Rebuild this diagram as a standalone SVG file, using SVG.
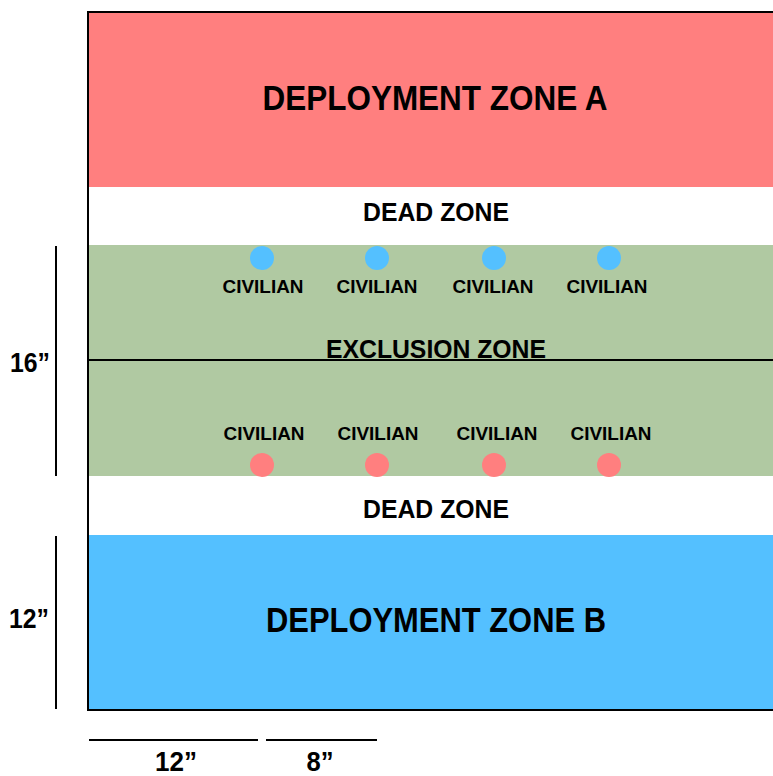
<svg xmlns="http://www.w3.org/2000/svg" width="773" height="776" viewBox="0 0 773 776">
<style>
.t{font-family:"Liberation Sans",Arial,sans-serif;font-weight:bold;fill:#000;text-anchor:middle}
.big{font-size:35px}
.mid{font-size:25px}
.sm{font-size:19px}
.dim{font-size:28px}
.ln{stroke:#000;stroke-width:2;fill:none}
.blue{fill:#54C0FF}
.red{fill:#FF7F7F}
</style>
<rect width="773" height="776" fill="#fff"/>
<g id="zoneA"><rect x="88" y="12" width="685" height="175" fill="#FF7F7F"/><text class="t big" x="435" y="110" textLength="345" lengthAdjust="spacingAndGlyphs">DEPLOYMENT ZONE A</text></g>
<g id="deadA"><text class="t mid" x="436" y="221" textLength="146" lengthAdjust="spacingAndGlyphs">DEAD ZONE</text></g>
<g id="exclusion"><rect x="88" y="245" width="685" height="231" fill="#B0C9A2"/><line class="ln" x1="88" y1="360" x2="773" y2="360"/><text class="t mid" x="436" y="358" textLength="220" lengthAdjust="spacingAndGlyphs">EXCLUSION ZONE</text></g>
<g id="deadB"><text class="t mid" x="436" y="518" textLength="146" lengthAdjust="spacingAndGlyphs">DEAD ZONE</text></g>
<g id="zoneB"><rect x="88" y="535" width="685" height="175" fill="#54C0FF"/><text class="t big" x="436" y="632" textLength="340" lengthAdjust="spacingAndGlyphs">DEPLOYMENT ZONE B</text></g>
<g id="civ1"><circle class="blue" cx="262" cy="258" r="12"/><text class="t sm" x="263" y="293" textLength="81" lengthAdjust="spacingAndGlyphs">CIVILIAN</text></g>
<g id="civ2"><circle class="blue" cx="377" cy="258" r="12"/><text class="t sm" x="377" y="293" textLength="81" lengthAdjust="spacingAndGlyphs">CIVILIAN</text></g>
<g id="civ3"><circle class="blue" cx="494" cy="258" r="12"/><text class="t sm" x="493" y="293" textLength="81" lengthAdjust="spacingAndGlyphs">CIVILIAN</text></g>
<g id="civ4"><circle class="blue" cx="609" cy="258" r="12"/><text class="t sm" x="607" y="293" textLength="81" lengthAdjust="spacingAndGlyphs">CIVILIAN</text></g>
<g id="civ5"><circle class="red" cx="262" cy="465" r="12"/><text class="t sm" x="264" y="440" textLength="81" lengthAdjust="spacingAndGlyphs">CIVILIAN</text></g>
<g id="civ6"><circle class="red" cx="377" cy="465" r="12"/><text class="t sm" x="378" y="440" textLength="81" lengthAdjust="spacingAndGlyphs">CIVILIAN</text></g>
<g id="civ7"><circle class="red" cx="494" cy="465" r="12"/><text class="t sm" x="497" y="440" textLength="81" lengthAdjust="spacingAndGlyphs">CIVILIAN</text></g>
<g id="civ8"><circle class="red" cx="609" cy="465" r="12"/><text class="t sm" x="611" y="440" textLength="81" lengthAdjust="spacingAndGlyphs">CIVILIAN</text></g>
<g id="frame"><polyline class="ln" points="773,12 88,12 88,710 773,710"/></g>
<g id="dims">
<line class="ln" x1="56" y1="246" x2="56" y2="476"/>
<text class="t dim" x="30" y="372" textLength="40" lengthAdjust="spacingAndGlyphs">16”</text>
<line class="ln" x1="56" y1="536" x2="56" y2="709"/>
<text class="t dim" x="29" y="628" textLength="40" lengthAdjust="spacingAndGlyphs">12”</text>
<line class="ln" x1="89" y1="740" x2="258" y2="740"/>
<text class="t dim" x="176" y="771" textLength="42" lengthAdjust="spacingAndGlyphs">12”</text>
<line class="ln" x1="266" y1="740" x2="377" y2="740"/>
<text class="t dim" x="320" y="771" textLength="27" lengthAdjust="spacingAndGlyphs">8”</text>
</g>
</svg>
